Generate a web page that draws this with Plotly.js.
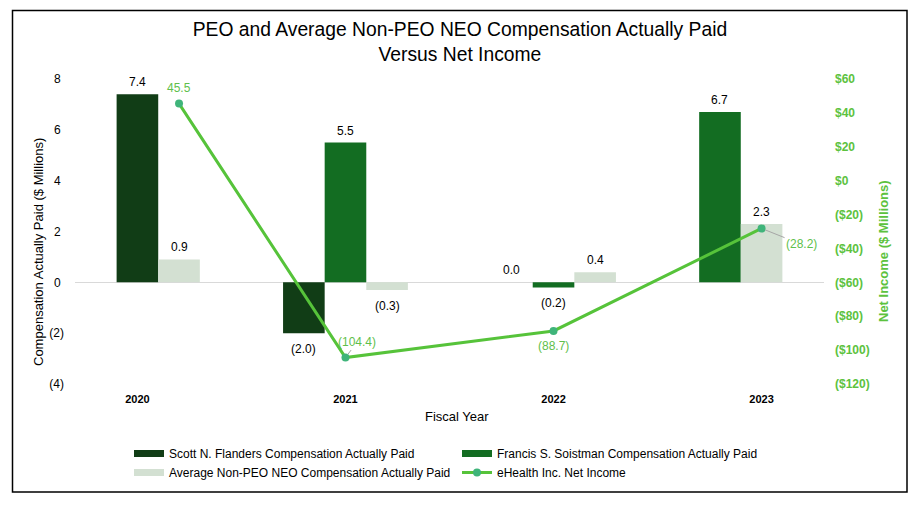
<!DOCTYPE html>
<html>
<head>
<meta charset="utf-8">
<script src="https://cdn.plot.ly/plotly-3.0.1.min.js"></script>
<style>html,body{margin:0;padding:0;background:#fff;}#chart{width:918px;height:506px;}</style>
</head>
<body>
<div id="chart"></div>
<script>
// ---- data ----
const categories = ['2020', '2021', '2022', '2023'];
const scottPaid = [7.4, -2.0, 0.0, null];
const francisPaid = [null, 5.5, -0.2, 6.7];
const avgNeoPaid = [0.9, -0.3, 0.4, 2.3];
const netIncome = [45.5, -104.4, -88.7, -28.2];
const leftTickVals = [-4, -2, 0, 2, 4, 6, 8];
const leftTickText = ['(4)', '(2)', '0', '2', '4', '6', '8'];
const rightTickVals = [-120, -100, -80, -60, -40, -20, 0, 20, 40, 60];
const rightTickText = ['($120)', '($100)', '($80)', '($60)', '($40)', '($20)', '$0', '$20', '$40', '$60'];

// ---- layout / style ----
const FONT = 'Liberation Sans, Arial, sans-serif';
const W = 918, H = 506;
const M = {l: 75, r: 94, t: 79, b: 122};
const PW = W - M.l - M.r, PH = H - M.t - M.b;
const px2x = p => (p - M.l) / PW;
const px2y = p => (H - M.b - p) / PH;

const BAR_W = 0.2;
const scottOffset = [-0.1, -0.3, -0.3, 0];
const francisOffset = [0, -0.1, -0.1, -0.3];
const avgOffset = [0.1, 0.1, 0.1, -0.1];
const lineOffset = [0.2, 0, 0, 0];

const idx = categories.map((c, i) => i);
const fmt = v => v < 0 ? '(' + Math.abs(v).toFixed(1) + ')' : v.toFixed(1);
// positive tick labels keep room for the closing parenthesis (accounting style)
const padTick = t => t.endsWith(')') ? t : t + '\u2008';

const colors = {scott: '#113d16', francis: '#136d22', avg: '#d3e0d2', line: '#56c33a', marker: '#3fb47a', label: '#5fbf4c', axis2: '#5cc23e'};

const names = {
  scott: 'Scott N. Flanders Compensation Actually Paid',
  francis: 'Francis S. Soistman Compensation Actually Paid',
  avg: 'Average Non-PEO NEO Compensation Actually Paid',
  line: 'eHealth Inc. Net Income'
};

function barTrace(key, vals, offs) {
  return {
    type: 'bar', name: names[key], x: idx, y: vals, width: BAR_W, offset: offs,
    marker: {color: colors[key]}, yaxis: 'y', hoverinfo: 'y', showlegend: false, legendgroup: key
  };
}
// legend-only entries drawn as wide swatches (no data marks)
function legendSwatch(key) {
  return {
    type: 'scatter', mode: 'lines', name: names[key], x: [null], y: [null],
    line: {color: colors[key], width: 7}, legendgroup: key, hoverinfo: 'skip'
  };
}

const traces = [
  barTrace('scott', scottPaid, scottOffset),
  barTrace('francis', francisPaid, francisOffset),
  barTrace('avg', avgNeoPaid, avgOffset),
  legendSwatch('scott'),
  legendSwatch('francis'),
  legendSwatch('avg'),
  {
    type: 'scatter', mode: 'lines+markers', name: names.line,
    x: idx.map(i => i + lineOffset[i]), y: netIncome, yaxis: 'y2',
    line: {color: colors.line, width: 3},
    marker: {color: colors.marker, size: 8}, cliponaxis: false
  }
];

const annotations = [];
// bar value labels
[[scottPaid, scottOffset], [francisPaid, francisOffset], [avgNeoPaid, avgOffset]].forEach(([vals, offs]) => {
  vals.forEach((v, i) => {
    if (v === null) return;
    annotations.push({
      xref: 'x', yref: 'y', x: i + offs[i] + BAR_W / 2, y: v,
      text: fmt(v), showarrow: false, xanchor: 'center', yanchor: 'middle',
      yshift: v < 0 ? -16 : 12,
      font: {family: FONT, size: 12, color: '#000'}
    });
  });
});
// line labels
const lineLabelCfg = [
  {xs: 0, ys: 16, arrow: false},
  {ax: 12, ay: -16, arrow: true},
  {xs: 0, ys: -15, arrow: false},
  {ax: 40, ay: 16, arrow: true}
];
netIncome.forEach((v, i) => {
  const c = lineLabelCfg[i];
  const a = {
    xref: 'x', yref: 'y2', x: i + lineOffset[i], y: v, text: fmt(v),
    font: {family: FONT, size: 12, color: colors.label}
  };
  if (c.arrow) {
    Object.assign(a, {showarrow: true, ax: c.ax, ay: c.ay, arrowhead: 0, arrowwidth: 1, arrowcolor: '#a6a6a6', standoff: 4});
  } else {
    Object.assign(a, {showarrow: false, xshift: c.xs, yshift: c.ys, xanchor: 'center', yanchor: 'middle'});
  }
  annotations.push(a);
});
// axis titles
annotations.push({
  xref: 'paper', yref: 'paper', x: px2x(38), y: px2y(252), textangle: -90, showarrow: false,
  xanchor: 'center', yanchor: 'middle',
  text: 'Compensation Actually Paid ($ Millions)', font: {family: FONT, size: 13, color: '#000'}
});
annotations.push({
  xref: 'paper', yref: 'paper', x: px2x(883), y: px2y(251), textangle: -90, showarrow: false,
  xanchor: 'center', yanchor: 'middle',
  text: 'Net Income ($ Millions)', font: {family: FONT, size: 13, color: colors.axis2, weight: 'bold'}
});
annotations.push({
  xref: 'paper', yref: 'paper', x: px2x(457), y: px2y(416), showarrow: false,
  xanchor: 'center', yanchor: 'middle',
  text: 'Fiscal Year', font: {family: FONT, size: 13, color: '#000'}
});

const layout = {
  width: W, height: H,
  margin: M,
  paper_bgcolor: '#fff', plot_bgcolor: '#fff',
  font: {family: FONT, size: 12, color: '#000'},
  title: {
    text: 'PEO and Average Non-PEO NEO Compensation Actually Paid<br>Versus Net Income',
    font: {family: FONT, size: 19.3, color: '#000'},
    x: 0.501, xanchor: 'center', y: 1 - 36 / H, yanchor: 'top', yref: 'container'
  },
  barmode: 'overlay',
  showlegend: true,
  xaxis: {
    range: [-0.3, 3.3], tickvals: idx, ticktext: categories,
    showgrid: false, zeroline: false, showline: false, ticks: '',
    tickfont: {family: FONT, size: 11, color: '#000', weight: 'bold'}, ticklabelstandoff: 7
  },
  yaxis: {
    range: [-4, 8], tickvals: leftTickVals, ticktext: leftTickText.map(padTick),
    showgrid: false, zeroline: true, zerolinecolor: '#d9d9d9', zerolinewidth: 1,
    showline: false, ticks: '', tickfont: {family: FONT, size: 12, color: '#000'}, ticklabelstandoff: 10
  },
  yaxis2: {
    range: [-120, 60], tickvals: rightTickVals, ticktext: rightTickText,
    overlaying: 'y', side: 'right', showgrid: false, zeroline: false, showline: false, ticks: '',
    tickfont: {family: FONT, size: 12, color: colors.axis2, weight: 'bold'}, ticklabelstandoff: 10
  },
  legend: {
    orientation: 'h', x: px2x(129), xanchor: 'left', y: px2y(439), yanchor: 'top',
    entrywidth: 283, entrywidthmode: 'pixels', traceorder: 'normal',
    font: {family: FONT, size: 12, color: '#000'}, bgcolor: 'rgba(0,0,0,0)'
  },
  annotations: annotations,
  shapes: [{
    type: 'rect', xref: 'paper', yref: 'paper',
    x0: px2x(12.5), x1: px2x(907), y0: px2y(492), y1: px2y(10.5),
    line: {color: '#000', width: 1.5}, fillcolor: 'rgba(0,0,0,0)', layer: 'below'
  }]
};

Plotly.newPlot('chart', traces, layout, {displayModeBar: false, staticPlot: true});
</script>
</body>
</html>
